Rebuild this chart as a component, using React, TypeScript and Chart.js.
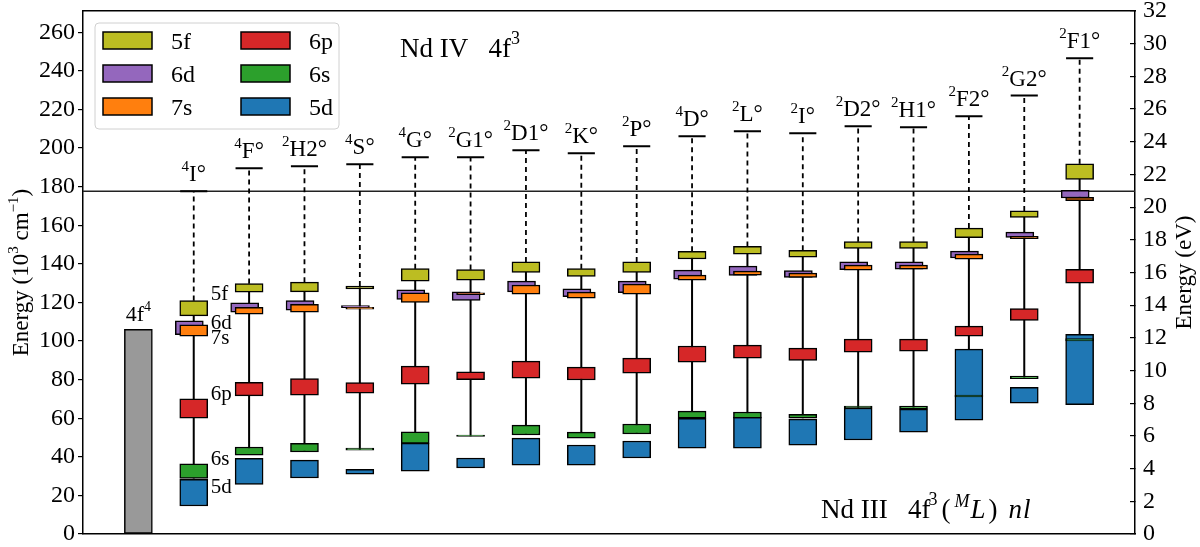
import React, { useEffect, useRef } from 'react';
import { Chart, registerables } from 'chart.js';
Chart.register(...registerables);

const FONT = '"Liberation Serif", "Times New Roman", serif';
Chart.defaults.font.family = FONT;

// Parent terms of Nd IV 4f3 (x = 1..17), ground 4f4 at x = 0
const termMult = ['4', '4', '2', '4', '4', '2', '2', '2', '2', '4', '2', '2', '2', '2', '2', '2', '2'];
const termName = ['I°', 'F°', 'H2°', 'S°', 'G°', 'G1°', 'D1°', 'K°', 'P°', 'D°', 'L°', 'I°', 'D2°', 'H1°', 'F2°', 'G2°', 'F1°'];
// series limits (10^3 cm-1)
const limits = [177.6, 189.5, 190.6, 191.6, 195.2, 195.2, 198.9, 197.3, 200.9, 206.1, 208.7, 207.7, 211.3, 210.8, 216.5, 227.2, 246.5];

const ground4f4 = [0, 106];
const ionLimit = 177.6;

const lev5f = [[113, 121], [125.3, 129.8], [125.5, 130.5], [127, 128.5], [131, 137.5], [131.5, 137], [135.5, 141], [133.5, 137.5], [135.5, 141], [142.5, 146.5], [145, 149], [143.5, 147], [148, 151.5], [148, 151.5], [153.5, 158.5], [164, 167.4], [183.7, 191.8]];
const lev6d = [[103.3, 110.5], [115, 119.8], [116, 121], [117.3, 118.3], [121.5, 126.5], [121, 125.5], [125.5, 131], [123, 127], [125, 131], [132, 136.7], [134, 138.8], [133, 136.5], [137, 141], [137.2, 141], [143, 146.6], [153.7, 156.4], [174.1, 178.1]];
const lev7s = [[102.5, 108.4], [113.9, 117.4], [115, 119], [116.5, 117.5], [120, 125], [124, 125], [124.3, 129], [122.2, 125.3], [124.3, 129.5], [131.5, 134.1], [134.1, 136.2], [133, 135.2], [136.7, 139.3], [137.2, 139.3], [142.4, 145], [153, 154.3], [172.7, 174.5]];
const lev6p = [[60, 70], [71.6, 78.6], [72, 80.5], [73, 78.5], [77.7, 87], [80, 84], [80.8, 89.6], [79.8, 86.5], [83.4, 91.1], [89, 97.4], [91.1, 97.9], [90, 96.3], [94.2, 101], [94.8, 101], [102.5, 107.7], [110.7, 116.8], [130, 137.2]];
const lev6s = [[28.8, 36.4], [40.9, 45.1], [42.5, 47], [43.5, 44.5], [47, 53], [50.6, 51.2], [51.3, 56.4], [49.7, 52.8], [51.8, 57], [60, 63.7], [60, 63.2], [60, 62], [65.3, 66.3], [64.7, 66.3], [71, 72], [80.5, 81.8], [100, 101.2]];
const lev5d = [[14.5, 28.3], [25.7, 39.2], [29, 38.3], [31, 33.5], [32.6, 47.1], [34.2, 39.4], [35.7, 49.7], [35.7, 46.1], [39.4, 48.2], [44.5, 60], [44.5, 60.6], [46, 59.5], [48.7, 65.3], [52.8, 64.7], [59, 95.8], [67.8, 76], [67, 103.5]];

const seriesNames = ['5f', '6d', '7s', '6p', '6s', '5d'];
const seriesColors = ['#bcbd22', '#9467bd', '#ff7f0e', '#d62728', '#2ca02c', '#1f77b4'];
// annotation heights (10^3 cm-1) of the series names written beside the first term
const seriesNameAt = [124.8, 110, 102, 73, 39.3, 24.9];

type Seg = { t: string; size: number; italic?: boolean; dy?: number; gap?: number };
const fontOf = (s: Seg) => `${s.italic ? 'italic ' : ''}${s.size}px ${FONT}`;
function drawRich(ctx: CanvasRenderingContext2D, segs: Seg[], x: number, y: number, align: 'left' | 'center' | 'right') {
  let total = 0;
  const ws = segs.map((s) => {
    ctx.font = fontOf(s);
    const w = ctx.measureText(s.t).width + (s.gap || 0);
    total += w;
    return w;
  });
  let cx = align === 'left' ? x : align === 'center' ? x - total / 2 : x - total;
  ctx.textAlign = 'left';
  ctx.textBaseline = 'alphabetic';
  segs.forEach((s, i) => {
    ctx.font = fontOf(s);
    ctx.fillText(s.t, cx, y - (s.dy || 0));
    cx += ws[i];
  });
}

const annotPlugin = {
  id: 'annot',
  afterDraw(chart: any) {
    const { ctx, chartArea } = chart;
    const xs = chart.scales.x;
    const ys = chart.scales.y;
    ctx.save();
    ctx.fillStyle = '#000';
    // term labels
    termName.forEach((nm, i) => {
      const px = xs.getPixelForValue(i + 1);
      const py = ys.getPixelForValue(limits[i]) - 10;
      drawRich(ctx, [{ t: termMult[i], size: 15, dy: 10 }, { t: nm, size: 23 }], px, py, 'center');
    });
    // 4f4 label
    drawRich(ctx, [{ t: '4f', size: 22 }, { t: '4', size: 14, dy: 10 }], xs.getPixelForValue(0), ys.getPixelForValue(ground4f4[1]) - 8, 'center');
    // series names beside the first term
    seriesNames.forEach((nm, k) => {
      drawRich(ctx, [{ t: nm, size: 21 }], xs.getPixelForValue(1) + 17, ys.getPixelForValue(seriesNameAt[k]) + 7, 'left');
    });
    // titles inside plot
    drawRich(ctx, [{ t: 'Nd IV   4f', size: 27 }, { t: '3', size: 18, dy: 13 }], chartArea.left + 317, chartArea.top + 46, 'left');
    drawRich(ctx, [
      { t: 'Nd III   4f', size: 27, gap: -2 },
      { t: '3', size: 18, dy: 13, gap: 4 },
      { t: '(', size: 27, gap: 4 },
      { t: 'M', size: 18, italic: true, dy: 11, gap: 1 },
      { t: 'L', size: 27, italic: true, gap: 3 },
      { t: ')', size: 27, gap: 11 },
      { t: 'n', size: 27, italic: true, gap: 1 },
      { t: 'l', size: 27, italic: true },
    ], chartArea.left + 738, chartArea.top + 507, 'left');

    // legend
    const lx = chartArea.left + 12, ly = chartArea.top + 12, lw = 244, lh = 106;
    ctx.beginPath();
    (ctx as any).roundRect(lx, ly, lw, lh, 4);
    ctx.fillStyle = 'rgba(255,255,255,0.85)';
    ctx.fill();
    ctx.strokeStyle = '#d0d0d0';
    ctx.lineWidth = 1;
    ctx.stroke();
    seriesNames.forEach((nm, k) => {
      const col = Math.floor(k / 3), row = k % 3;
      const px = lx + 8 + col * 138;
      const cy = ly + 17.5 + row * 33;
      ctx.fillStyle = seriesColors[k];
      ctx.fillRect(px, cy - 8.5, 49, 17);
      ctx.strokeStyle = '#000';
      ctx.lineWidth = 1.5;
      ctx.strokeRect(px, cy - 8.5, 49, 17);
      ctx.fillStyle = '#000';
      drawRich(ctx, [{ t: nm, size: 24 }], px + 68, cy + 8, 'left');
    });

    // axis titles
    const midY = (chartArea.top + chartArea.bottom) / 2;
    ctx.save();
    ctx.translate(20, midY);
    ctx.rotate(-Math.PI / 2);
    drawRich(ctx, [
      { t: 'Energy (10', size: 23 },
      { t: '3', size: 15, dy: 10 },
      { t: ' cm', size: 23 },
      { t: '−1', size: 15, dy: 10 },
      { t: ')', size: 23 },
    ], 0, 8, 'center');
    ctx.restore();
    ctx.save();
    ctx.translate(1183, midY);
    ctx.rotate(-Math.PI / 2);
    drawRich(ctx, [{ t: 'Energy (eV)', size: 23 }], 0, 8, 'center');
    ctx.restore();
    ctx.restore();
  },
};

function levelSet(label: string, arr: number[][], color: string, order: number, dx = 0) {
  return {
    type: 'bar' as const,
    label,
    data: arr.map((r, i) => ({ x: i + 1 + dx, y: r })),
    backgroundColor: color,
    borderColor: '#000',
    borderWidth: 1.5,
    borderSkipped: false,
    barThickness: 28,
    grouped: false,
    order,
  };
}

export default function App() {
  const ref = useRef<HTMLCanvasElement>(null);
  useEffect(() => {
    document.body.style.margin = '0';
    const connector: any[] = [];
    const dashed: any[] = [];
    const limTicks: any[] = [];
    termName.forEach((_, i) => {
      const x = i + 1;
      connector.push({ x, y: lev6s[i][0] }, { x, y: lev5f[i][1] }, { x, y: null });
      dashed.push({ x, y: lev5f[i][1] }, { x, y: limits[i] }, { x, y: null });
      limTicks.push({ x: x - 0.245, y: limits[i] }, { x: x + 0.245, y: limits[i] }, { x, y: null });
    });
    const lineBase = { pointRadius: 0, borderColor: '#000', fill: false, spanGaps: false, tension: 0 };
    const chart = new Chart(ref.current!, {
      type: 'bar',
      data: {
        datasets: [
          levelSet('5f', lev5f, seriesColors[0], 1),
          levelSet('7s', lev7s, seriesColors[2], 2),
          levelSet('6d', lev6d, seriesColors[1], 3, -0.08),
          levelSet('6p', lev6p, seriesColors[3], 4),
          levelSet('6s', lev6s, seriesColors[4], 5),
          levelSet('5d', lev5d, seriesColors[5], 6),
          {
            type: 'bar', label: '4f4', data: [{ x: 0, y: ground4f4 }], backgroundColor: '#999999', borderColor: '#000',
            borderWidth: 1.5, borderSkipped: false, barThickness: 28, grouped: false, order: 7,
          } as any,
          { type: 'line', label: 'conn', data: connector, ...lineBase, borderWidth: 2, order: 10 } as any,
          { type: 'line', label: 'dash', data: dashed, ...lineBase, borderWidth: 1.8, borderDash: [5, 4], order: 11 } as any,
          { type: 'line', label: 'lim', data: limTicks, ...lineBase, borderWidth: 2, order: 12 } as any,
          { type: 'line', label: 'ip', data: [{ x: -1, y: ionLimit }, { x: 18, y: ionLimit }], ...lineBase, borderColor: '#222', borderWidth: 1.5, order: 13 } as any,
        ],
      },
      options: {
        responsive: false,
        animation: false,
        devicePixelRatio: 1,
        events: [],
        layout: { padding: 0 },
        plugins: { legend: { display: false }, tooltip: { enabled: false } },
        scales: {
          x: {
            type: 'linear', position: 'bottom', min: -1, max: 18, offset: false,
            grid: { display: false, offset: false }, ticks: { display: false },
            border: { display: true, color: '#000', width: 1.5 },
            afterFit: (s: any) => { s.height = 13; s.paddingLeft = 0; s.paddingRight = 0; },
          },
          xTop: {
            type: 'linear', position: 'top', min: -1, max: 18, offset: false,
            grid: { display: false, offset: false }, ticks: { display: false },
            border: { display: true, color: '#000', width: 1.5 },
            afterFit: (s: any) => { s.height = 11; s.paddingLeft = 0; s.paddingRight = 0; },
          },
          y: {
            type: 'linear', position: 'left', min: 0, max: 271,
            ticks: { stepSize: 20, includeBounds: false, color: '#000', font: { size: 24, family: FONT }, padding: 3 },
            grid: { display: true, drawOnChartArea: false, drawTicks: true, tickLength: 5, color: '#000', lineWidth: 1.2 },
            border: { display: true, color: '#000', width: 1.5 },
            afterFit: (s: any) => { s.width = 83; s.paddingTop = 0; s.paddingBottom = 0; },
          },
          y2: {
            type: 'linear', position: 'right', min: 0, max: 32,
            ticks: { stepSize: 2, includeBounds: false, color: '#000', font: { size: 24, family: FONT }, padding: 13 },
            grid: { display: true, drawOnChartArea: false, drawTicks: true, tickLength: -5, color: '#000', lineWidth: 1.2 },
            border: { display: true, color: '#000', width: 1.5 },
            afterFit: (s: any) => { s.width = 65; s.paddingTop = 0; s.paddingBottom = 0; },
          },
        },
      } as any,
      plugins: [annotPlugin],
    });
    return () => chart.destroy();
  }, []);
  return (
    <div style={{ width: 1200, height: 547, background: '#fff' }}>
      <canvas ref={ref} width={1200} height={547} style={{ display: 'block' }} />
    </div>
  );
}
